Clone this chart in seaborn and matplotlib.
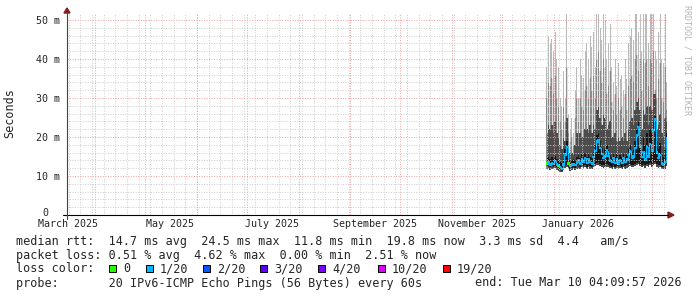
import datetime as dt
import matplotlib
matplotlib.use("Agg")
import matplotlib.pyplot as plt
from matplotlib.patches import Rectangle, Polygon
from matplotlib.lines import Line2D
import numpy as np
import pandas as pd
import seaborn as sns

# ---------------- data (ms) ----------------
first_day = "2025-12-28"
top = [38, 46, 44, 45, 42, 47, 40, 38, 30, 28,
       37, 30, 52, 26, 22, 25, 21, 32, 38, 30,
       40, 36, 35, 42, 44, 40, 46, 43, 47, 38,
       52, 52, 48, 45, 52, 50, 40, 44, 49, 38,
       34, 40, 33, 39, 35, 36, 32, 40, 35, 44,
       46, 48, 45, 52, 52, 47, 52, 42, 52, 52,
       52, 44, 52, 52, 52, 42, 40, 47, 52, 40,
       39, 52, 34]
p90 = [30, 34, 33, 35, 31, 36, 30, 28, 24, 22,
       28, 24, 38, 21, 19, 20, 18, 25, 30, 24,
       30, 28, 27, 32, 33, 30, 35, 32, 36, 30,
       40, 42, 37, 34, 40, 38, 31, 33, 37, 29,
       27, 31, 26, 30, 27, 28, 25, 31, 27, 33,
       35, 36, 34, 40, 41, 37, 40, 32, 40, 39,
       40, 33, 40, 39, 42, 32, 30, 35, 39, 30,
       29, 38, 27]
p75 = [21, 23, 22, 23, 21, 24, 21, 20, 18, 17,
       20, 19, 25, 17, 16, 16, 15.5, 18, 21, 18,
       21, 20, 20, 22, 22, 21, 23, 21, 23, 22,
       27, 28, 25, 23, 26, 25, 22, 23, 24, 20,
       20, 21, 19, 20, 19, 20, 19, 21, 19, 22,
       24, 25, 23, 27, 29, 30, 27, 22, 27, 26,
       28, 23, 28, 27, 31, 31, 22, 23, 26, 21,
       20, 25, 24]
dark = [14.5, 15.0, 14.3, 14.8, 14.4, 15.2, 14.4, 14.0, 13.6, 13.4,
        14.4, 16.8, 19.0, 14.6, 14.0, 14.2, 14.4, 14.2, 15.0, 15.4,
        14.6, 15.6, 15.0, 16.0, 14.8, 15.8, 15.0, 14.6, 16.2, 18.0,
        20.5, 21.0, 19.0, 17.2, 16.0, 16.8, 18.0, 16.6, 15.4, 15.0,
        16.0, 14.8, 15.6, 14.6, 15.4, 14.8, 16.0, 15.0, 15.6, 17.0,
        18.0, 16.2, 16.6, 19.0, 22.0, 24.0, 21.0, 17.0, 20.0, 18.0,
        21.0, 18.0, 22.0, 21.0, 24.0, 25.5, 19.0, 17.0, 18.5, 15.5,
        15.0, 17.0, 21.0]
median = [13.2, 13.6, 12.9, 13.4, 13.1, 13.8, 13.0, 12.6, 12.3, 11.8,
          13.0, 15.5, 17.4, 13.2, 12.6, 12.9, 13.1, 12.8, 13.5, 14.0,
          13.2, 14.2, 13.6, 14.6, 13.4, 14.4, 13.6, 13.2, 14.8, 16.4,
          18.8, 19.1, 17.2, 15.6, 14.6, 15.2, 16.5, 15.2, 14.0, 13.6,
          14.6, 13.4, 14.2, 13.2, 14.0, 13.3, 14.6, 13.6, 14.2, 15.4,
          16.3, 14.6, 15.0, 17.2, 20.4, 22.6, 17.6, 14.8, 16.2, 14.2,
          17.4, 15.0, 18.2, 16.4, 21.8, 24.5, 16.0, 14.6, 15.4, 13.2,
          12.9, 13.5, 19.8]
low = [12.4, 12.6, 12.2, 12.5, 12.3, 12.6, 12.2, 11.9, 11.7, 11.4,
       12.2, 12.6, 12.9, 12.3, 11.9, 12.1, 12.3, 12.1, 12.5, 12.7,
       12.3, 12.8, 12.5, 12.9, 12.4, 12.8, 12.5, 12.3, 12.9, 13.2,
       13.4, 13.5, 13.1, 12.9, 12.7, 12.9, 13.0, 12.8, 12.6, 12.4,
       12.8, 12.4, 12.6, 12.3, 12.6, 12.4, 12.8, 12.5, 12.7, 13.0,
       13.1, 12.8, 12.9, 13.2, 13.4, 13.6, 13.2, 12.8, 13.1, 12.7,
       13.2, 12.8, 13.3, 13.0, 13.4, 13.6, 13.0, 12.7, 12.9, 12.4,
       12.3, 12.5, 13.2]
floor = [11.8, 12.0, 11.6, 11.9, 11.7, 12.0, 11.6, 11.3, 11.1, 10.9,
         11.6, 12.0, 12.2, 11.7, 11.3, 11.5, 11.7, 11.5, 11.9, 12.1,
         11.7, 12.2, 11.9, 12.3, 11.8, 12.2, 11.9, 11.7, 12.3, 12.6,
         12.8, 12.9, 12.5, 12.3, 12.1, 12.3, 12.4, 12.2, 12.0, 11.8,
         12.2, 11.8, 12.0, 11.7, 12.0, 11.8, 12.2, 11.9, 12.1, 12.4,
         12.5, 12.2, 12.3, 12.6, 12.8, 13.0, 12.6, 12.2, 12.5, 12.1,
         12.6, 12.2, 12.7, 12.4, 12.8, 13.0, 12.4, 12.1, 12.3, 11.8,
         11.7, 11.9, 12.6]
loss = ["0", "1/20", "1/20", "1/20", "1/20", "1/20", "1/20", "0", "1/20", "1/20",
        "1/20", "1/20", "1/20", "0"] + ["1/20"] * 59

loss_names = ["0", "1/20", "2/20", "3/20", "4/20", "10/20", "19/20"]
loss_colors = ["#26ff00", "#00b8ff", "#0059ff", "#5e00ff", "#7e00ff", "#dd00ff", "#ff0000"]

month_labels = ["March 2025", "May 2025", "July 2025", "September 2025",
                "November 2025", "January 2026"]
month_label_dates = ["2025-03-16", "2025-05-16", "2025-07-16", "2025-09-16",
                     "2025-11-16", "2026-01-16"]
ytick_vals = [10, 20, 30, 40, 50]
ytick_labels = ["10 m", "20 m", "30 m", "40 m", "50 m"]

legend_lines = [
    "median rtt:  14.7 ms avg  24.5 ms max  11.8 ms min  19.8 ms now  3.3 ms sd  4.4   am/s",
    "packet loss: 0.51 % avg  4.62 % max  0.00 % min  2.51 % now",
]
probe_text = "probe:       20 IPv6-ICMP Echo Pings (56 Bytes) every 60s"
end_text = "end: Tue Mar 10 04:09:57 2026"

# ---------------- setup ----------------
W, H = 697, 297
sns.set_theme(style="white")
plt.rcParams["font.family"] = ["DejaVu Sans Mono", "DejaVu Sans"]
plt.rcParams["figure.facecolor"] = "white"
plt.rcParams["axes.facecolor"] = "white"

FS_LEG = 8.47
FS_AX = 7.18


def fx(x):
    return x / W


def fy(y):
    return 1 - y / H


fig = plt.figure(figsize=(W / 100, H / 100), dpi=100)
ax = fig.add_axes([fx(67), fy(215), 600 / W, 201 / H])

end = dt.datetime(2026, 3, 10, 4, 9, 57)
start = end - dt.timedelta(days=360)
ymax = 201 / 3.9
ax.set_xlim(start, end)
ax.set_ylim(0, ymax)

dates = pd.date_range(first_day, periods=len(median), freq="D")
bar_w = 0.55  # days: thin smoke lines with gaps

# smoke: thin tall lines, then continuous denser core
top_a, p90_a, floor_a = np.array(top), np.array(p90), np.array(floor)
ax.fill_between(dates, floor, p90, step="mid", color="#e2e2e2", lw=0, zorder=1.9)
ax.bar(dates, top_a - floor_a, bottom=floor_a, width=bar_w, color="#b9b9b9", lw=0, zorder=2)
ax.bar(dates, p90_a - floor_a, bottom=floor_a, width=bar_w, color="#8a8a8a", lw=0, zorder=2.1)
ax.fill_between(dates, floor, p75, step="mid", color="#4c4c4c", lw=0, zorder=2.2)
ax.fill_between(dates, low, dark, step="mid", color="#161616", lw=0, zorder=2.3)

# median
ax.step(dates, median, where="mid", color="#00b8ff", lw=0.9, zorder=6)
df = pd.DataFrame({"date": dates, "median": median, "loss": loss})
sns.scatterplot(data=df, x="date", y="median", hue="loss",
                palette=dict(zip(loss_names, loss_colors)), marker="s", s=3,
                linewidth=0, legend=False, ax=ax, zorder=7)

# grid
GREY = "#cccccc"
RED = "#eba2a2"
weeks = pd.date_range(start, end, freq="W-SUN")
months = pd.date_range(start, end, freq="MS")
ls = (0, (1, 1.6))
ax.vlines(weeks, 0, ymax, colors=GREY, lw=0.7, linestyles=ls, zorder=8)
ax.vlines(months, 0, ymax, colors=RED, lw=0.7, linestyles=ls, zorder=9)
minor_y = [v for v in np.arange(2, ymax, 2) if v % 10 != 0]
ax.hlines(minor_y, start, end, colors=GREY, lw=0.7, linestyles=ls, zorder=8)
ax.hlines(ytick_vals, start, end, colors=RED, lw=0.7, linestyles=ls, zorder=9)

for s in ax.spines.values():
    s.set_visible(False)
ax.grid(False)

ax.set_xticks(pd.to_datetime(month_label_dates))
ax.set_xticklabels(month_labels, fontsize=FS_AX)
ax.tick_params(axis="x", length=0, pad=2.6)
ax.set_yticks(ytick_vals)
ax.set_yticklabels(ytick_labels, fontsize=FS_AX)
ax.set_yticks(minor_y, minor=True)
ax.tick_params(axis="y", which="major", length=2.5, width=0.7, color=RED, pad=2.2, direction="out")
ax.tick_params(axis="y", which="minor", length=2.0, width=0.7, color=GREY, direction="out")
ax.set_xlabel("")
ax.set_ylabel("")

# axes lines + arrows
AXC = "#2c4d43"
fig.add_artist(Line2D([fx(63), fx(668)], [fy(215), fy(215)], color="black", lw=0.8))
fig.add_artist(Line2D([fx(67), fx(67)], [fy(219), fy(13)], color=AXC, lw=0.8))
ARC = "#7f1f1f"
fig.add_artist(Polygon([(fx(668), fy(212)), (fx(668), fy(218)), (fx(674), fy(215))],
                       closed=True, color=ARC, transform=fig.transFigure))
fig.add_artist(Polygon([(fx(64), fy(13)), (fx(70), fy(13)), (fx(67), fy(8))],
                       closed=True, color=ARC, transform=fig.transFigure))

fig.text(fx(48), fy(213.5), "0", fontsize=FS_AX, ha="right", va="center")
fig.text(fx(10), fy(113), "Seconds", fontsize=FS_LEG, rotation=90, ha="center", va="center")
fig.text(fx(687), fy(60), "RRDTOOL / TOBI OETIKER", fontsize=6.0, rotation=270,
         ha="center", va="center", color="#b4b4b4")

# legend text
fig.text(fx(16), fy(241), legend_lines[0], fontsize=FS_LEG, ha="left", va="center")
fig.text(fx(16), fy(255), legend_lines[1], fontsize=FS_LEG, ha="left", va="center")
fig.text(fx(16), fy(269), "loss color:", fontsize=FS_LEG, ha="left", va="center")
box_x = [109, 146, 203, 260, 318, 378, 443]
for bx, name, col in zip(box_x, loss_names, loss_colors):
    fig.add_artist(Rectangle((fx(bx), fy(271.5)), 7 / W, 7 / H, facecolor=col,
                             edgecolor="black", lw=0.7, transform=fig.transFigure))
    fig.text(fx(bx + 14), fy(269), name, fontsize=FS_LEG, ha="left", va="center")
fig.text(fx(16), fy(283), probe_text, fontsize=FS_LEG, ha="left", va="center")
fig.text(fx(682), fy(283), end_text, fontsize=FS_LEG, ha="right", va="center")

fig.savefig("out.png", dpi=100)
